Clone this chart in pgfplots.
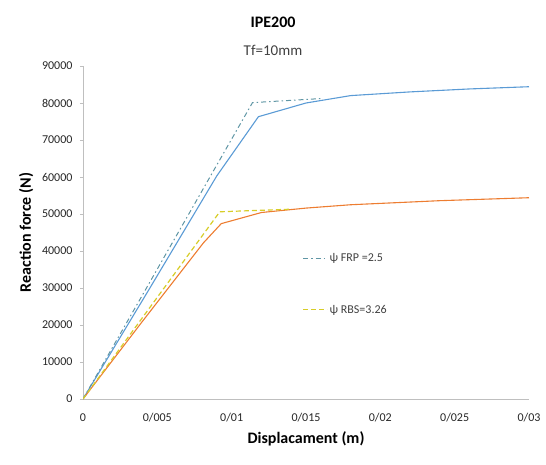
\documentclass[border=0pt]{standalone}
\usepackage{pgfplots}
\pgfplotsset{compat=1.18}
\usepackage{fontspec}
\setmainfont{Carlito}
\definecolor{cblue}{RGB}{91,155,213}
\definecolor{cteal}{RGB}{95,150,165}
\definecolor{corange}{RGB}{237,125,49}
\definecolor{cyellow}{RGB}{215,205,40}
\begin{document}
\begin{tikzpicture}[x=1pt,y=1pt]
\path[use as bounding box] (0,0) rectangle (546,464);
\node[font=\bfseries\fontsize{16}{18}\selectfont] at (273,442) {IPE200};
\node[font=\fontsize{15}{17}\selectfont, text=black!75] at (273,414) {Tf=10mm};
\begin{axis}[
  at={(83pt,65pt)}, anchor=origin,
  scale only axis, width=446pt, height=333pt,
  xmin=0, xmax=0.03, ymin=0, ymax=90000,
  axis x line*=bottom, axis y line*=left,
  axis line style={black!25},
  xtick={0,0.005,0.01,0.015,0.02,0.025,0.03},
  xticklabels={0,0/005,0/01,0/015,0/02,0/025,0/03},
  ytick={0,10000,...,90000},
  yticklabels={0,10000,20000,30000,40000,50000,60000,70000,80000,90000},
  scaled x ticks=false, scaled y ticks=false,
  tick style={black!25}, tick align=outside,
  major tick length=3pt,
  xtick style={draw=none},
  ticklabel style={font=\fontsize{12}{14}\selectfont, text=black!85},
  xticklabel style={yshift=-8pt},
  yticklabel style={xshift=-4pt},
  xlabel={\bfseries Displacament (m)},
  ylabel={\bfseries Reaction force (N)},
  label style={font=\fontsize{16}{18}\selectfont},
  xlabel style={yshift=-2pt},
  ylabel style={yshift=2pt},
  legend style={at={(rel axis cs:0.485,0.45)}, anchor=north west, draw=none, fill=none,
    font=\fontsize{12}{14}\selectfont, text=black!75, row sep=38pt},
  legend cell align=left,
  legend image code/.code={\draw[#1] (0pt,0pt) -- (24pt,0pt);},
]
\addplot[cblue, line width=1.1pt, forget plot] coordinates {
(0,0) (0.0045,30000) (0.009,60300) (0.0118,76300) (0.015,80000) (0.018,82000) (0.022,83000) (0.026,83800) (0.03,84400)};
\addplot[corange, line width=1.1pt, forget plot] coordinates {
(0,0) (0.004,21000) (0.0081,42200) (0.0093,47400) (0.012,50400) (0.015,51600) (0.018,52500) (0.024,53600) (0.03,54400)};
\addplot[cteal, line width=1pt, dash pattern=on 5pt off 3pt on 1.5pt off 3pt] coordinates {
(0,0) (0.0114,80100) (0.016,81200)};
\addlegendentry{ψ FRP =2.5}
\addplot[cyellow, line width=1.2pt, dash pattern=on 5pt off 3pt] coordinates {
(0,0) (0.0092,50600) (0.014,51300)};
\addlegendentry{ψ RBS=3.26}
\end{axis}
\end{tikzpicture}
\end{document}
